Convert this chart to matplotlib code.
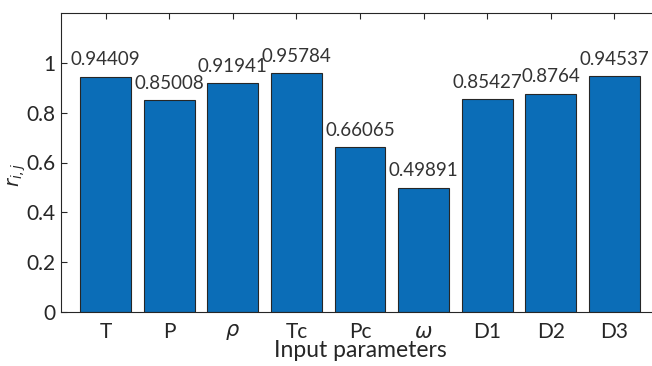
import numpy as np
import matplotlib
matplotlib.use('Agg')
import matplotlib.pyplot as plt

params = ['T', 'P', r'$\rho$', 'Tc', 'Pc', r'$\omega$', 'D1', 'D2', 'D3']
rij = [0.94409, 0.85008, 0.91941, 0.95784, 0.66065, 0.49891, 0.85427, 0.8764, 0.94537]
labels = ['0.94409', '0.85008', '0.91941', '0.95784', '0.66065', '0.49891', '0.85427', '0.8764', '0.94537']

plt.rcParams['font.family'] = ['Lato', 'DejaVu Sans']
plt.rcParams['mathtext.fontset'] = 'dejavusans'

fig = plt.figure(figsize=(6.52, 3.66), dpi=100)
# axes run past the right edge of the canvas
ax = fig.add_axes([61/652, 1-312/366, 598/652, 299/366])

x = np.arange(1, len(rij)+1)
ax.bar(x, rij, width=0.8, color='#0b6db7', edgecolor='#262626', linewidth=0.8, zorder=2)
for xi, v, s in zip(x, rij, labels):
    ax.annotate(s, (xi, v), xytext=(0, 6), textcoords='offset points',
                ha='center', va='bottom', fontsize=13.5, color='#333333')

ax.set_xlim(0.3, 9.7)
ax.set_ylim(0, 1.2)
ax.set_yticks([0, 0.2, 0.4, 0.6, 0.8, 1])
ax.set_yticklabels(['0', '0.2', '0.4', '0.6', '0.8', '1'])
ax.set_xticks(x)
ax.set_xticklabels(params)
ax.tick_params(direction='in', top=True, right=True, length=4, width=0.8,
               labelsize=15, colors='#262626', pad=7)
ax.tick_params(axis='y', pad=4)
for sp in ax.spines.values():
    sp.set_color('#262626')
    sp.set_linewidth(0.8)
    sp.set_zorder(3)
ax.set_xlabel('Input parameters', fontsize=16.5, color='#262626', labelpad=-1)
ax.set_ylabel(r'$r_{i,j}$', fontsize=14, color='#262626')
ax.yaxis.set_label_coords(-0.055, 0.46)

fig.savefig('out.png', dpi=100)
